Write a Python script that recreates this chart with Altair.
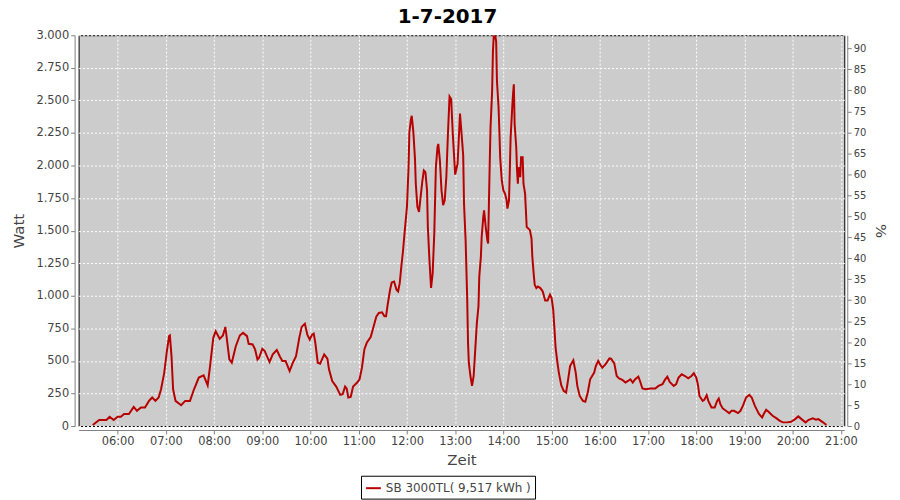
import altair as alt
import pandas as pd

times = [
    "05:29", "05:37", "05:46", "05:50", "05:55", "06:00", "06:04", "06:08", "06:14", "06:20",
    "06:24", "06:29", "06:34", "06:39", "06:43", "06:47", "06:51", "06:54", "06:58", "07:01",
    "07:04", "07:05", "07:07", "07:09", "07:12", "07:19", "07:24", "07:30", "07:35", "07:41",
    "07:47", "07:52", "07:55", "07:59", "08:02", "08:07", "08:11", "08:14", "08:16", "08:19",
    "08:22", "08:27", "08:32", "08:36", "08:41", "08:43", "08:48", "08:51", "08:54", "08:56",
    "09:00", "09:03", "09:09", "09:13", "09:18", "09:22", "09:25", "09:29", "09:34", "09:38",
    "09:42", "09:46", "09:49", "09:53", "09:56", "09:59", "10:02", "10:04", "10:06", "10:09",
    "10:12", "10:17", "10:21", "10:23", "10:27", "10:32", "10:37", "10:40", "10:43", "10:45",
    "10:47", "10:50", "10:53", "10:58", "11:01", "11:04", "11:07", "11:10", "11:15", "11:18",
    "11:22", "11:25", "11:29", "11:32", "11:34", "11:36", "11:39", "11:41", "11:44", "11:47",
    "11:49", "11:51", "11:53", "11:55", "11:57", "12:00", "12:02", "12:03", "12:05", "12:06",
    "12:08", "12:10", "12:11", "12:13", "12:15", "12:17", "12:19", "12:21", "12:23", "12:25",
    "12:26", "12:28", "12:30", "12:32", "12:34", "12:36", "12:38", "12:39", "12:41", "12:43",
    "12:45", "12:47", "12:49", "12:51", "12:53", "12:55", "12:57", "13:00", "13:03", "13:05",
    "13:06", "13:08", "13:10", "13:11", "13:13", "13:14", "13:15", "13:16", "13:17", "13:19",
    "13:21", "13:23", "13:25", "13:27", "13:29", "13:30", "13:32", "13:33", "13:35", "13:36",
    "13:38", "13:40", "13:41", "13:42", "13:43", "13:44", "13:46", "13:47", "13:48", "13:50",
    "13:51", "13:52", "13:54", "13:55", "13:56", "13:58", "14:00", "14:02", "14:04", "14:05",
    "14:07", "14:08", "14:09", "14:11", "14:12", "14:13", "14:14", "14:16", "14:17", "14:18",
    "14:19", "14:21", "14:22", "14:24", "14:25", "14:27", "14:28", "14:29", "14:31", "14:33",
    "14:35", "14:36", "14:38", "14:39", "14:41", "14:43", "14:46", "14:49", "14:52", "14:55",
    "14:58", "15:00", "15:02", "15:04", "15:05", "15:07", "15:09", "15:12", "15:15", "15:18",
    "15:20", "15:23", "15:27", "15:30", "15:32", "15:35", "15:39", "15:42", "15:45", "15:48",
    "15:53", "15:55", "15:58", "16:01", "16:03", "16:07", "16:12", "16:14", "16:18", "16:21",
    "16:24", "16:28", "16:32", "16:35", "16:38", "16:41", "16:44", "16:48", "16:50", "16:53",
    "16:57", "17:03", "17:09", "17:13", "17:18", "17:21", "17:24", "17:27", "17:32", "17:35",
    "17:38", "17:42", "17:46", "17:50", "17:54", "17:57", "18:00", "18:02", "18:04", "18:08",
    "18:10", "18:13", "18:15", "18:19", "18:23", "18:26", "18:28", "18:30", "18:33", "18:37",
    "18:41", "18:44", "18:47", "18:52", "18:55", "18:58", "19:02", "19:06", "19:09", "19:13",
    "19:18", "19:22", "19:24", "19:27", "19:30", "19:35", "19:40", "19:44", "19:48", "19:53",
    "19:58", "20:03", "20:07", "20:11", "20:16", "20:20", "20:25", "20:29", "20:32", "20:36",
    "20:39", "20:42",
]

watts = [
    8, 46, 46, 71, 46, 71, 71, 92, 92, 147,
    117, 143, 143, 193, 219, 193, 219, 282, 410, 563,
    690, 695, 537, 282, 193, 160, 193, 193, 282, 372,
    389, 313, 460, 677, 728, 669, 695, 761, 664, 511,
    486, 613, 695, 715, 690, 631, 626, 588, 511, 524,
    593, 575, 491, 550, 583, 532, 499, 499, 422, 486,
    537, 677, 761, 786, 702, 664, 702, 710, 639, 486,
    479, 550, 517, 435, 346, 303, 239, 244, 303, 288,
    219, 224, 303, 334, 359, 448, 588, 639, 685, 753,
    842, 868, 873, 842, 842, 931, 1046, 1102, 1109, 1046,
    1033, 1097, 1224, 1338, 1479, 1682, 1987, 2254, 2356, 2382,
    2254, 2051, 1860, 1682, 1643, 1758, 1873, 1962, 1949, 1809,
    1529, 1275, 1060, 1173, 1479, 1987, 2140, 2166, 2038, 1809,
    1695, 1733, 1911, 2242, 2530, 2510, 2250, 1930, 2013, 2267,
    2399, 2242, 2076, 1708, 1427, 1198, 969, 639, 486, 384,
    308, 384, 588, 792, 918, 1147, 1300, 1453, 1605, 1656,
    1529, 1427, 1402, 1708, 2013, 2292, 2573, 2878, 2992, 2992,
    2954, 2649, 2445, 2267, 2063, 1885, 1809, 1784, 1733, 1669,
    1733, 1962, 2216, 2445, 2547, 2624, 2318, 2140, 1962, 1860,
    1987, 1911, 2063, 2063, 1860, 1784, 1656, 1529, 1517, 1504,
    1440, 1300, 1147, 1084, 1059, 1071, 1059, 1033, 964, 964,
    1008, 982, 893, 700, 600, 499, 410, 313, 270, 257,
    334, 460, 504, 410, 308, 231, 193, 186, 257, 359,
    410, 460, 499, 466, 448, 473, 519, 517, 481, 384,
    366, 354, 334, 346, 359, 334, 359, 379, 346, 288,
    282, 288, 288, 308, 321, 354, 379, 338, 308, 321,
    372, 397, 384, 366, 384, 405, 372, 321, 231, 193,
    201, 237, 193, 143, 143, 193, 211, 168, 135, 117,
    99, 117, 117, 99, 117, 155, 219, 239, 219, 155,
    92, 66, 92, 124, 109, 79, 59, 40, 28, 28,
    33, 53, 74, 53, 28, 48, 59, 48, 53, 36,
    23, 8,
]

hour_ticks = list(range(6, 22))
watt_ticks = list(range(0, 3001, 250))
pct_ticks = list(range(0, 95, 5))
pct_range = [0, 93.15]
series_name = "SB 3000TL( 9,517 kWh )"
chart_title = "1-7-2017"

df = pd.DataFrame({"time": times, "watt": watts})
df["hour"] = df["time"].map(lambda s: int(s[:2]) + int(s[3:]) / 60.0)
df["series"] = series_name

pct_df = pd.DataFrame({"pct": pct_range})

FONT = "DejaVu Sans"
x_domain = [5.19, 21.07]

line = alt.Chart(df).mark_line(strokeWidth=2, clip=True).encode(
    x=alt.X(
        "hour:Q",
        scale=alt.Scale(domain=x_domain, nice=False, zero=False),
        axis=alt.Axis(
            title="Zeit",
            values=hour_ticks,
            labelExpr="(datum.value < 10 ? '0' : '') + datum.value + ':00'",
            offset=4,
            grid=True,
            labelPadding=2,
            titlePadding=5,
        ),
    ),
    y=alt.Y(
        "watt:Q",
        scale=alt.Scale(domain=[0, 3000], nice=False),
        axis=alt.Axis(
            title="Watt",
            values=watt_ticks,
            labelExpr="replace(format(datum.value, ','), ',', '.')",
            offset=4,
            grid=True,
            labelPadding=2,
            titlePadding=9,
        ),
    ),
    color=alt.Color(
        "series:N",
        scale=alt.Scale(range=["#b80000"]),
        legend=alt.Legend(
            title=None,
            orient="none",
            legendX=284,
            legendY=443,
            strokeColor="black",
            fillColor="white",
            padding=4,
            symbolType="stroke",
            symbolStrokeWidth=2,
            symbolSize=220,
            labelFont=FONT,
            labelFontSize=12,
            labelColor="#444444",
            cornerRadius=0,
        ),
    ),
)

right = alt.Chart(pct_df).mark_point(opacity=0).encode(
    y=alt.Y(
        "pct:Q",
        scale=alt.Scale(domain=pct_range, nice=False),
        axis=alt.Axis(
            title="%",
            orient="right",
            values=pct_ticks,
            offset=3,
            grid=False,
            labelFontSize=10,
            labelPadding=2,
            titlePadding=7,
            titleAngle=90,
        ),
    ),
)

chart = (
    alt.layer(line, right)
    .resolve_scale(y="independent")
    .properties(
        width=770,
        height=393,
        title=alt.TitleParams(
            chart_title,
            font=FONT,
            fontSize=20,
            fontWeight="bold",
            color="black",
            anchor="middle",
            dx=-14,
            offset=2,
        ),
        autosize=alt.AutoSizeParams(type="none"),
        padding={"left": 71, "top": 26, "right": 48, "bottom": 73},
    )
    .configure_view(fill="#cccccc", stroke="black", strokeWidth=1)
    .configure_axis(
        domainColor="#808080",
        tickColor="#808080",
        tickSize=4,
        labelColor="#444444",
        titleColor="#444444",
        labelFont=FONT,
        labelFontSize=11.5,
        titleFont=FONT,
        titleFontSize=15,
        titleFontWeight="normal",
        gridColor="white",
        gridDash=[2, 2],
        gridOpacity=1,
        gridWidth=1,
    )
)

chart.save("out.html", embed_options={"renderer": "svg", "actions": False})
